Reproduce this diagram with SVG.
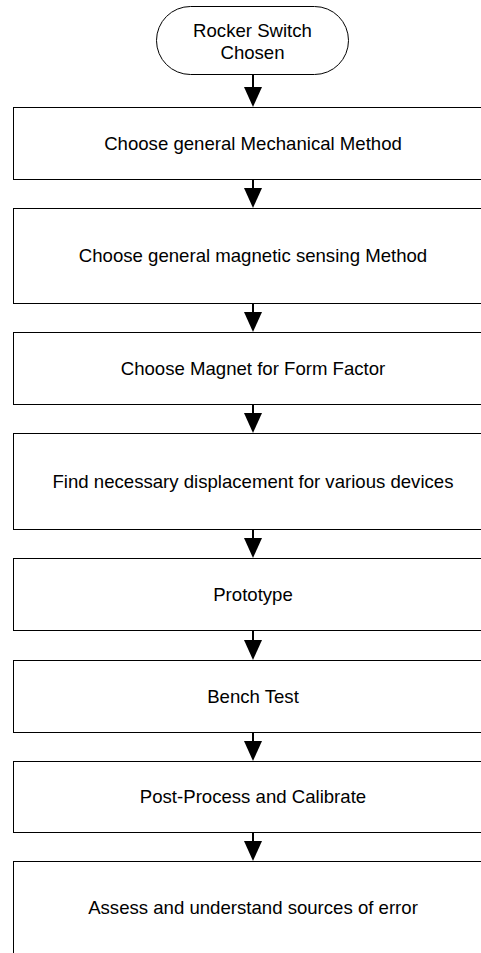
<svg xmlns="http://www.w3.org/2000/svg" width="481" height="953" viewBox="0 0 481 953">
<style>
.n{fill:#fff;stroke:#000;stroke-width:1}
.t{font-family:"Liberation Sans",Arial,sans-serif;font-size:18.6px;fill:#000;text-anchor:middle}
.c line{stroke:#000;stroke-width:2}
.c polygon{fill:#000}
</style>
<rect width="481" height="953" fill="#fff"/>
<g id="start"><rect class="n" x="156.5" y="6.5" width="192" height="68" rx="34" ry="34"/><text class="t" x="252.5" y="37">Rocker Switch</text><text class="t" x="252.5" y="59">Chosen</text></g>
<g id="n1"><rect class="n" x="13.5" y="107.5" width="480" height="72"/><text class="t" x="253" y="149.5">Choose general Mechanical Method</text></g>
<g id="n2"><rect class="n" x="13.5" y="208.5" width="480" height="95"/><text class="t" x="253" y="262">Choose general magnetic sensing Method</text></g>
<g id="n3"><rect class="n" x="13.5" y="332.5" width="480" height="72"/><text class="t" x="253" y="374.5">Choose Magnet for Form Factor</text></g>
<g id="n4"><rect class="n" x="13.5" y="433.5" width="480" height="96"/><text class="t" x="253" y="487.5">Find necessary displacement for various devices</text></g>
<g id="n5"><rect class="n" x="13.5" y="558.5" width="480" height="72"/><text class="t" x="253" y="600.5">Prototype</text></g>
<g id="n6"><rect class="n" x="13.5" y="660.5" width="480" height="72"/><text class="t" x="253" y="702.5">Bench Test</text></g>
<g id="n7"><rect class="n" x="13.5" y="761.5" width="480" height="71"/><text class="t" x="253" y="803">Post-Process and Calibrate</text></g>
<g id="n8"><rect class="n" x="13.5" y="861.5" width="480" height="96"/><text class="t" x="253" y="914">Assess and understand sources of error</text></g>
<g class="c" id="connectors">
<line x1="253" y1="74" x2="253" y2="88"/><polygon points="244,87 262,87 253,107"/>
<line x1="253" y1="179" x2="253" y2="189"/><polygon points="244,188 262,188 253,208"/>
<line x1="253" y1="303" x2="253" y2="313"/><polygon points="244,312 262,312 253,332"/>
<line x1="253" y1="404" x2="253" y2="414"/><polygon points="244,413 262,413 253,433"/>
<line x1="253" y1="529" x2="253" y2="539"/><polygon points="244,538 262,538 253,558"/>
<line x1="253" y1="630" x2="253" y2="641"/><polygon points="244,640 262,640 253,660"/>
<line x1="253" y1="732" x2="253" y2="742"/><polygon points="244,741 262,741 253,761"/>
<line x1="253" y1="832" x2="253" y2="842"/><polygon points="244,841 262,841 253,861"/>
</g>
</svg>
